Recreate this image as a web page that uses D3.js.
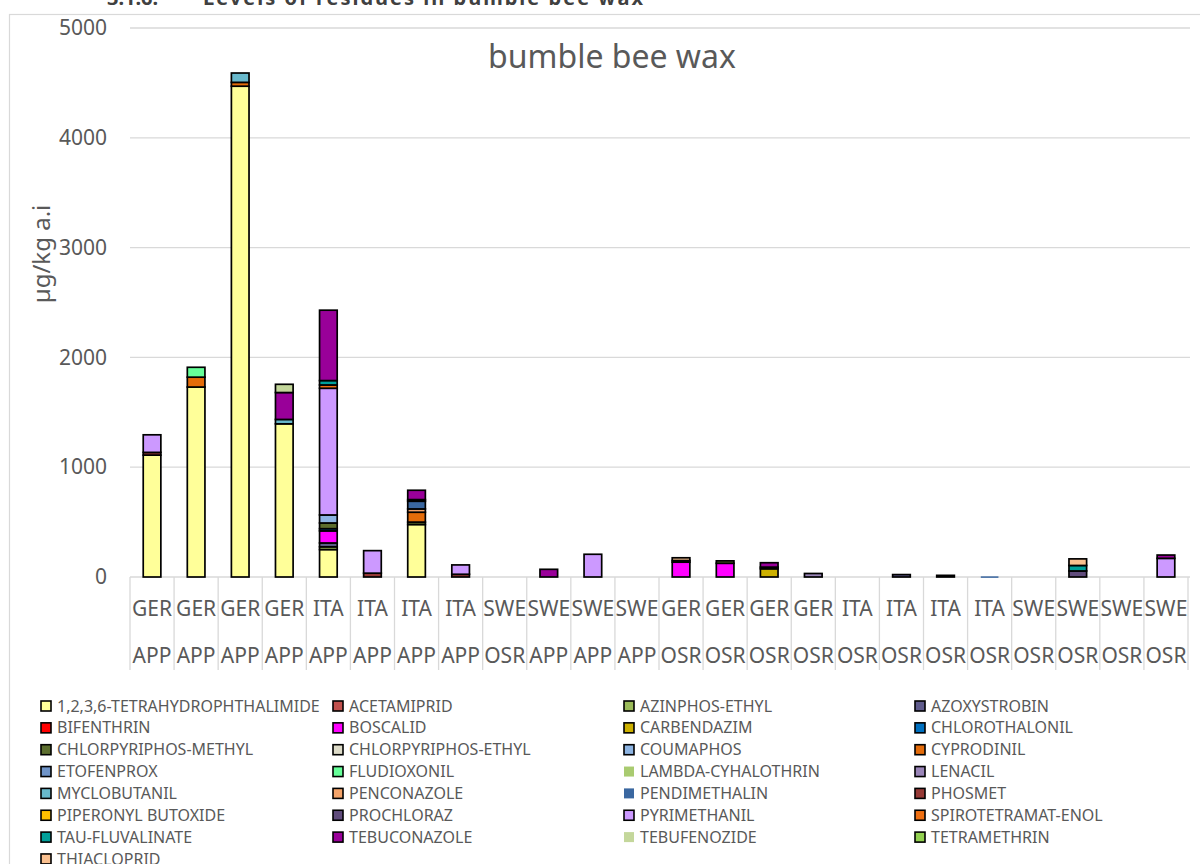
<!DOCTYPE html>
<html>
<head>
<meta charset="utf-8">
<script src="https://cdn.jsdelivr.net/npm/d3@7"></script>
<style>
  html, body { margin: 0; padding: 0; background: #ffffff; }
  svg { display: block; }
  text { font-family: "Noto Sans", "Open Sans", sans-serif; }
</style>
</head>
<body>
<svg id="chart" width="1200" height="864"></svg>
<script>
// ---- data ----
const countries = ["GER","GER","GER","GER","ITA","ITA","ITA","ITA","SWE","SWE","SWE","SWE",
                   "GER","GER","GER","GER","ITA","ITA","ITA","ITA","SWE","SWE","SWE","SWE"];
const crops = ["APP","APP","APP","APP","APP","APP","APP","APP","OSR","APP","APP","APP",
               "OSR","OSR","OSR","OSR","OSR","OSR","OSR","OSR","OSR","OSR","OSR","OSR"];
const yTicks = [0, 1000, 2000, 3000, 4000, 5000];

const seriesNames = [
  "1,2,3,6-TETRAHYDROPHTHALIMIDE","ACETAMIPRID","AZINPHOS-ETHYL","AZOXYSTROBIN",
  "BIFENTHRIN","BOSCALID","CARBENDAZIM","CHLOROTHALONIL",
  "CHLORPYRIPHOS-METHYL","CHLORPYRIPHOS-ETHYL","COUMAPHOS","CYPRODINIL",
  "ETOFENPROX","FLUDIOXONIL","LAMBDA-CYHALOTHRIN","LENACIL",
  "MYCLOBUTANIL","PENCONAZOLE","PENDIMETHALIN","PHOSMET",
  "PIPERONYL BUTOXIDE","PROCHLORAZ","PYRIMETHANIL","SPIROTETRAMAT-ENOL",
  "TAU-FLUVALINATE","TEBUCONAZOLE","TEBUFENOZIDE","TETRAMETHRIN",
  "THIACLOPRID"
];
const seriesColors = [
  "#FFFF99","#C0504D","#9BBB59","#5F5B8C",
  "#FF0000","#FF00FF","#CCB000","#0070C0",
  "#5C6E2E","#DDDBC8","#8DB4E2","#E46C0A",
  "#6F94C8","#66FF99","#A9CB70","#9A85B8",
  "#68B8CB","#F4A46A","#3A67A0","#963A36",
  "#FFC000","#604C7C","#CC99FF","#F07012",
  "#00A09A","#990099","#C4D79B","#92D050",
  "#FAC08F"
];
const legendNoBorder = ["LAMBDA-CYHALOTHRIN","PENDIMETHALIN","TEBUFENOZIDE"];

// values per series, one entry per category (µg/kg)
const seriesValues = [
  /* TETRAHYDROPHTHALIMIDE */ [1110,1730,4470,1395,250,0,478,0, 0,0,0,0, 0,0,0,0, 0,0,0,0, 0,0,0,0],
  /* ACETAMIPRID */           [0,0,0,0,0,0,0,0, 0,0,0,0, 0,0,0,0, 0,0,0,0, 0,0,0,0],
  /* AZINPHOS-ETHYL */        [0,0,0,0,25,0,0,0, 0,0,0,0, 0,0,0,0, 0,0,0,0, 0,0,0,0],
  /* AZOXYSTROBIN */          [0,0,0,0,35,0,0,0, 0,0,0,0, 0,0,0,0, 0,22,15,0, 0,0,0,0],
  /* BIFENTHRIN */            [0,0,0,0,0,0,0,0, 0,0,0,0, 0,0,0,0, 0,0,0,0, 0,0,0,0],
  /* BOSCALID */              [0,0,0,0,110,0,0,0, 0,0,0,0, 135,125,0,0, 0,0,0,0, 0,0,0,0],
  /* CARBENDAZIM */           [0,0,0,0,0,0,0,0, 0,0,0,0, 0,0,75,0, 0,0,0,0, 0,0,0,0],
  /* CHLOROTHALONIL */        [0,0,0,0,20,0,0,0, 0,0,0,0, 0,0,0,0, 0,0,0,0, 0,0,0,0],
  /* CHLORPYRIPHOS-METHYL */  [0,0,0,0,52,0,22,0, 0,0,0,0, 0,22,0,0, 0,0,0,0, 0,0,0,0],
  /* CHLORPYRIPHOS-ETHYL */   [0,0,0,0,0,0,0,0, 0,0,0,0, 0,0,0,0, 0,0,0,0, 0,0,0,0],
  /* COUMAPHOS */             [0,0,0,0,73,0,0,0, 0,0,0,0, 0,0,0,0, 0,0,0,0, 0,0,0,0],
  /* CYPRODINIL */            [0,90,35,0,0,0,90,0, 0,0,0,0, 0,0,0,0, 0,0,0,0, 0,0,0,0],
  /* ETOFENPROX */            [0,0,0,0,0,0,0,0, 0,0,0,0, 0,0,0,0, 0,0,0,0, 0,0,0,0],
  /* FLUDIOXONIL */           [0,90,0,0,0,0,0,0, 0,0,0,0, 0,0,0,0, 0,0,0,0, 0,0,0,0],
  /* LAMBDA-CYHALOTHRIN */    [0,0,0,0,0,0,0,0, 0,0,0,0, 0,0,15,0, 0,0,0,0, 0,0,0,0],
  /* LENACIL */               [0,0,0,0,0,0,0,0, 0,0,0,0, 0,0,0,32, 0,0,0,0, 0,0,0,0],
  /* MYCLOBUTANIL */          [0,0,85,40,0,0,0,0, 0,0,0,0, 0,0,0,0, 0,0,0,0, 0,0,0,0],
  /* PENCONAZOLE */           [0,0,0,0,0,0,30,0, 0,0,0,0, 0,0,0,0, 0,0,0,0, 0,0,0,0],
  /* PENDIMETHALIN */         [0,0,0,0,0,0,70,0, 0,0,0,0, 0,0,0,0, 0,0,0,6, 0,0,0,0],
  /* PHOSMET */               [25,0,0,0,0,35,0,25, 0,0,0,0, 0,0,0,0, 0,0,0,0, 0,0,0,0],
  /* PIPERONYL BUTOXIDE */    [0,0,0,0,0,0,0,0, 0,0,0,0, 0,0,0,0, 0,0,0,0, 0,0,0,0],
  /* PROCHLORAZ */            [0,0,0,0,0,0,15,0, 0,0,0,0, 15,0,0,0, 0,0,0,0, 0,55,0,0],
  /* PYRIMETHANIL */          [160,0,0,0,1154,205,0,85, 0,0,207,0, 0,0,0,0, 0,0,0,0, 0,0,0,170],
  /* SPIROTETRAMAT-ENOL */    [0,0,0,0,30,0,0,0, 0,0,0,0, 0,0,0,0, 0,0,0,0, 0,0,0,0],
  /* TAU-FLUVALINATE */       [0,0,0,0,40,0,0,0, 0,0,0,0, 0,0,0,0, 0,0,0,0, 0,50,0,0],
  /* TEBUCONAZOLE */          [0,0,0,245,641,0,85,0, 0,70,0,0, 0,0,40,0, 0,0,0,0, 0,0,0,30],
  /* TEBUFENOZIDE */          [0,0,0,75,0,0,0,0, 0,0,0,0, 0,0,0,0, 0,0,0,0, 0,0,0,0],
  /* TETRAMETHRIN */          [0,0,0,0,0,0,0,0, 0,0,0,0, 0,0,0,0, 0,0,0,0, 0,0,0,0],
  /* THIACLOPRID */           [0,0,0,0,0,0,0,0, 0,0,0,0, 25,0,0,0, 0,0,0,0, 0,60,0,0]
];

// ---- build ----
const svg = d3.select("#chart");
const grey = "#595959";

// outer chart frame
svg.append("rect").attr("x", 9.5).attr("y", 14.5).attr("width", 1200).attr("height", 900)
  .attr("fill", "#fff").attr("stroke", "#D9D9D9").attr("stroke-width", 1.2);

// clipped document heading above the chart
svg.append("text").attr("x", 107).attr("y", 5).attr("font-weight", "bold")
  .attr("font-size", 20).attr("fill", "#404040").text("3.1.6.");
svg.append("text").attr("x", 203).attr("y", 5).attr("font-weight", "bold")
  .attr("font-size", 20).attr("fill", "#404040").attr("textLength", 440)
  .text("Levels of residues in bumble bee wax");

const idx = d3.range(countries.length);
const x = d3.scaleBand().domain(idx).range([130, 1188]).paddingInner(0.6).paddingOuter(0.3);
const y = d3.scaleLinear().domain([0, 5000]).range([577, 28]);

// gridlines
svg.append("g").selectAll("line").data(yTicks).join("line")
  .attr("x1", 130).attr("x2", 1190)
  .attr("y1", d => y(d)).attr("y2", d => y(d))
  .attr("stroke", "#D9D9D9").attr("stroke-width", 1.3);

// y axis labels
const yAxis = d3.axisLeft(y).tickValues(yTicks).tickSize(0).tickPadding(23).tickFormat(d3.format("d"));
const gy = svg.append("g").attr("transform", "translate(130,0)").call(yAxis);
gy.select(".domain").remove();
gy.selectAll("text").attr("font-size", 21).attr("fill", grey)
  .attr("font-family", "'Noto Sans', sans-serif");

// y axis title
svg.append("text").attr("transform", "translate(50,254) rotate(-90)")
  .attr("text-anchor", "middle").attr("font-size", 24).attr("fill", grey).text("µg/kg a.i");

// chart title
svg.append("text").attr("x", 612).attr("y", 68).attr("text-anchor", "middle")
  .attr("font-size", 32).attr("fill", grey).text("bumble bee wax");

// category separators
const seps = d3.range(countries.length + 1).map(i => 130 + i * (1058 / countries.length));
svg.append("g").selectAll("line").data(seps).join("line")
  .attr("x1", d => d).attr("x2", d => d).attr("y1", 577).attr("y2", 670)
  .attr("stroke", "#D9D9D9").attr("stroke-width", 1.3);

// category labels
const cx = i => x(i) + x.bandwidth() / 2;
svg.append("g").selectAll("text").data(idx).join("text")
  .attr("x", cx).attr("y", 616).attr("text-anchor", "middle")
  .attr("font-size", 21).attr("fill", grey).text(i => countries[i]);
svg.append("g").selectAll("text").data(idx).join("text")
  .attr("x", cx).attr("y", 663).attr("text-anchor", "middle")
  .attr("font-size", 21).attr("fill", grey).text(i => crops[i]);

// stacked bars
const rows = idx.map(i => {
  const r = { i };
  seriesNames.forEach((s, k) => { r[k] = seriesValues[k][i]; });
  return r;
});
const keys = d3.range(seriesNames.length);
const stacked = d3.stack().keys(keys)(rows);

const gBars = svg.append("g");
stacked.forEach((layer, k) => {
  gBars.append("g").selectAll("rect")
    .data(layer.filter(d => d[1] - d[0] > 0))
    .join("rect")
    .attr("x", d => x(d.data.i))
    .attr("width", x.bandwidth())
    .attr("y", d => y(d[1]))
    .attr("height", d => Math.max(1.5, y(d[0]) - y(d[1])))
    .attr("fill", seriesColors[k])
    .attr("stroke", d => (y(d[0]) - y(d[1]) < 1) ? "none" : "#000")
    .attr("stroke-width", 1.7);
});

// legend
const colX = [41, 333, 624, 915];
const legend = svg.append("g");
seriesNames.forEach((name, k) => {
  const col = k % 4, row = Math.floor(k / 4);
  const lx = colX[col], ly = 706 + row * 21.85;
  const g = legend.append("g");
  g.append("rect").attr("x", lx).attr("y", ly - 5).attr("width", 10).attr("height", 10)
    .attr("fill", seriesColors[k])
    .attr("stroke", legendNoBorder.includes(name) ? "none" : "#000")
    .attr("stroke-width", 1.6);
  g.append("text").attr("x", lx + 16).attr("y", ly).attr("dy", "0.35em")
    .attr("font-size", 16).attr("fill", grey).text(name);
});
</script>
</body>
</html>
